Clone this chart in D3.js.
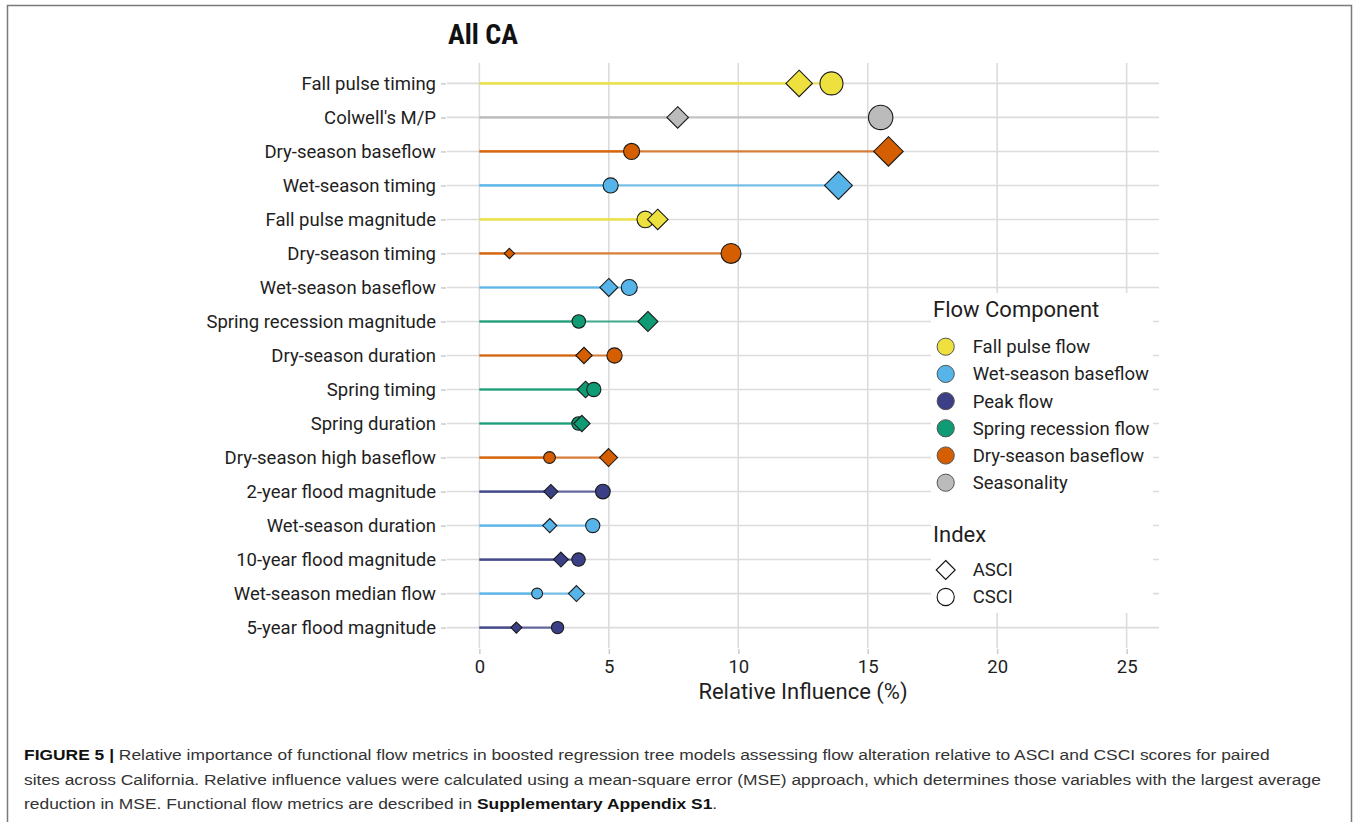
<!DOCTYPE html>
<html lang="en">
<head>
<meta charset="UTF-8">
<title>All CA</title>
<style>
    body { margin: 0; background: #fff; }
    svg { display: block; }
    .cond { font-family: Roboto, sans-serif; }
    .caption { font-family: "Liberation Sans", Arial, sans-serif; font-size: 15px; fill: #333; }
</style>
</head>
<body>
<script src="https://d3js.org/d3.v7.min.js"></script>
<script>
// metrics, top to bottom
var metrics = ["Fall pulse timing", "Colwell's M/P", "Dry-season baseflow", "Wet-season timing",
    "Fall pulse magnitude", "Dry-season timing", "Wet-season baseflow", "Spring recession magnitude",
    "Dry-season duration", "Spring timing", "Spring duration", "Dry-season high baseflow",
    "2-year flood magnitude", "Wet-season duration", "10-year flood magnitude",
    "Wet-season median flow", "5-year flood magnitude"];
var components = ["Fall pulse flow", "Seasonality", "Dry-season baseflow", "Wet-season baseflow",
    "Fall pulse flow", "Dry-season baseflow", "Wet-season baseflow", "Spring recession flow",
    "Dry-season baseflow", "Spring recession flow", "Spring recession flow", "Dry-season baseflow",
    "Peak flow", "Wet-season baseflow", "Peak flow", "Wet-season baseflow", "Peak flow"];
var asci = [12.35, 7.66, 15.8, 13.87, 6.89, 1.16, 5.0, 6.51, 4.04, 4.1, 3.96, 4.99, 2.76, 2.72, 3.15, 3.75, 1.43];
var csci = [13.6, 15.5, 5.88, 5.07, 6.41, 9.72, 5.79, 3.84, 5.22, 4.42, 3.83, 2.71, 4.77, 4.38, 3.83, 2.23, 3.02];

var legendComponents = ["Fall pulse flow", "Wet-season baseflow", "Peak flow",
    "Spring recession flow", "Dry-season baseflow", "Seasonality"];
var componentColors = ["#EEE03E", "#56B4E9", "#3B4086", "#0F9B73", "#D55E00", "#BBBBBB"];
var indexNames = ["ASCI", "CSCI"];
var xTicks = [0, 5, 10, 15, 20, 25];

var W = 1356, H = 822;
var panel = {left: 447, right: 1159, top: 63, bottom: 648};

var svg = d3.select("body").append("svg")
    .attr("width", W)
    .attr("height", H);

// frame around the figure
svg.append("rect")
    .attr("x", 7.5).attr("y", 5.5)
    .attr("width", 1344).attr("height", 830)
    .attr("fill", "none").attr("stroke", "#7a7a7a").attr("stroke-width", 1.5);

var x = d3.scaleLinear().domain([-1.25, 26.25]).range([panel.left, panel.right]);
var y = d3.scalePoint().domain(metrics).range([panel.top, panel.bottom]).padding(0.6);
var color = d3.scaleOrdinal().domain(legendComponents).range(componentColors);
var r = d3.scaleSqrt().domain([0, 16]).range([1.33, 12.37]);

var g = svg.append("g").attr("class", "cond");

// grid
g.append("g").selectAll("line").data(metrics).enter().append("line")
    .attr("x1", panel.left).attr("x2", panel.right)
    .attr("y1", function(d) { return y(d); }).attr("y2", function(d) { return y(d); })
    .attr("stroke", "#dcdcdc").attr("stroke-width", 1.6);
g.append("g").selectAll("line").data(xTicks).enter().append("line")
    .attr("x1", function(d) { return x(d); }).attr("x2", function(d) { return x(d); })
    .attr("y1", panel.top).attr("y2", panel.bottom)
    .attr("stroke", "#dcdcdc").attr("stroke-width", 1.6);

// axes
var yAxis = g.append("g")
    .attr("transform", "translate(" + (panel.left - 1) + ",0)")
    .call(d3.axisLeft(y).tickSize(5).tickPadding(5))
    .attr("font-family", null).attr("font-size", null);
yAxis.select(".domain").remove();
yAxis.selectAll(".tick line").attr("stroke", "#cfcfcf").attr("stroke-width", 1.6);
yAxis.selectAll(".tick text").attr("fill", "#1e1e1e").style("font-size", "18.5px");

var xAxis = g.append("g")
    .attr("transform", "translate(0," + (panel.bottom + 1) + ")")
    .call(d3.axisBottom(x).tickValues(xTicks).tickSize(5).tickPadding(6))
    .attr("font-family", null).attr("font-size", null);
xAxis.select(".domain").remove();
xAxis.selectAll(".tick line").attr("stroke", "#cfcfcf").attr("stroke-width", 1.6);
xAxis.selectAll(".tick text").attr("fill", "#1e1e1e").style("font-size", "18.5px");

g.append("text")
    .attr("x", (panel.left + panel.right) / 2).attr("y", 699)
    .attr("text-anchor", "middle")
    .style("font-size", "22px").attr("fill", "#1e1e1e")
    .text("Relative Influence (%)");

g.append("text")
    .attr("x", 448).attr("y", 44)
    .style("font-family", "'Roboto Condensed', Roboto, sans-serif")
    .style("font-size", "28px").style("font-weight", "bold").attr("fill", "#111")
    .text("All CA");

// points data
var rows = metrics.map(function(m, i) {
    return {metric: m, comp: components[i], asci: asci[i], csci: csci[i]};
});
var pts = [];
rows.forEach(function(d) {
    pts.push({metric: d.metric, comp: d.comp, index: "ASCI", v: d.asci});
    pts.push({metric: d.metric, comp: d.comp, index: "CSCI", v: d.csci});
});

// segments from 0
g.append("g").selectAll("line").data(pts).enter().append("line")
    .attr("x1", x(0)).attr("x2", function(d) { return x(d.v); })
    .attr("y1", function(d) { return y(d.metric); }).attr("y2", function(d) { return y(d.metric); })
    .attr("stroke", function(d) { return color(d.comp); })
    .attr("stroke-width", 2.2).attr("stroke-opacity", 0.75);

// markers, smaller values first so larger sit on top
var sorted = pts.slice().sort(function(a, b) { return a.v - b.v; });
function diamond(s) {
    return "M0," + (-s) + "L" + s + ",0L0," + s + "L" + (-s) + ",0Z";
}
var marks = g.append("g").selectAll("g").data(sorted).enter().append("g")
    .attr("transform", function(d) { return "translate(" + x(d.v) + "," + y(d.metric) + ")"; });
marks.each(function(d) {
    var el = d3.select(this);
    if (d.index === "ASCI") {
        el.append("path").attr("d", diamond(r(d.v) * 1.2));
    } else {
        el.append("circle").attr("r", r(d.v));
    }
    el.select("*").attr("fill", color(d.comp)).attr("stroke", "#1a1a1a").attr("stroke-width", 1.1);
});

// legend
var lg = g.append("g");
lg.append("rect").attr("x", 931).attr("y", 293).attr("width", 222).attr("height", 320).attr("fill", "#fff");
lg.append("text").attr("x", 933).attr("y", 317).style("font-size", "22px").attr("fill", "#1e1e1e")
    .text("Flow Component");
var li = lg.selectAll(".li").data(legendComponents).enter().append("g")
    .attr("transform", function(d, i) { return "translate(945.7," + (346.7 + i * 27.2) + ")"; });
li.append("circle").attr("r", 8.6)
    .attr("fill", function(d) { return color(d); })
    .attr("stroke", "#555").attr("stroke-width", 1);
li.append("text").attr("x", 27).attr("dy", "0.35em")
    .style("font-size", "18.5px").attr("fill", "#1e1e1e")
    .text(function(d) { return d; });

lg.append("text").attr("x", 933).attr("y", 542).style("font-size", "22px").attr("fill", "#1e1e1e")
    .text("Index");
var ii = lg.selectAll(".ii").data(indexNames).enter().append("g")
    .attr("transform", function(d, i) { return "translate(945.7," + (570 + i * 27) + ")"; });
ii.each(function(d) {
    var el = d3.select(this);
    if (d === "ASCI") el.append("path").attr("d", diamond(9.5));
    else el.append("circle").attr("r", 8.6);
    el.select("*").attr("fill", "#fff").attr("stroke", "#111").attr("stroke-width", 1.1);
});
ii.append("text").attr("x", 27).attr("dy", "0.35em")
    .style("font-size", "18.5px").attr("fill", "#1e1e1e")
    .text(function(d) { return d; });

// caption (printed a little wider than the font's natural width)
var capG = svg.append("g");
var cap = capG.append("text").attr("class", "caption");
var l1 = cap.append("tspan").attr("x", 0).attr("y", 760.5);
l1.append("tspan").style("font-weight", "bold").attr("fill", "#111").text("FIGURE 5 | ");
l1.append("tspan").text("Relative importance of functional flow metrics in boosted regression tree models assessing flow alteration relative to ASCI and CSCI scores for paired");
var l2 = cap.append("tspan").attr("x", 0).attr("y", 785)
    .text("sites across California. Relative influence values were calculated using a mean-square error (MSE) approach, which determines those variables with the largest average");
var l3 = cap.append("tspan").attr("x", 0).attr("y", 809);
l3.append("tspan").text("reduction in MSE. Functional flow metrics are described in ");
l3.append("tspan").style("font-weight", "bold").attr("fill", "#111").text("Supplementary Appendix S1");
l3.append("tspan").text(".");

var sx = 1297 / l2.node().getComputedTextLength();
capG.attr("transform", "translate(24,0) scale(" + sx + ",1)");
</script>
</body>
</html>
